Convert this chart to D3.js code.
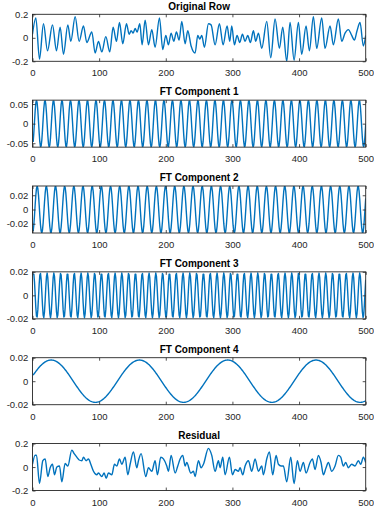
<!DOCTYPE html>
<html>
<head>
<meta charset="utf-8">
<script src="https://cdn.jsdelivr.net/npm/d3@7"></script>
<style>
  body { margin: 0; background: #fff; }
  svg { display: block; }
</style>
</head>
<body>
<div id="chart"></div>
<script>
// panel titles, top to bottom
const titles = ["Original Row", "FT Component 1", "FT Component 2", "FT Component 3", "FT Component 4", "Residual"];
const xTicks = [0, 100, 200, 300, 400, 500];

// y limits and ticks per panel
const yLims = [[-0.2, 0.2], [-0.06, 0.06], [-0.033, 0.033], [-0.02, 0.02], [-0.02, 0.02], [-0.2, 0.2]];
const yTickVals = [[-0.2, 0, 0.2], [-0.05, 0, 0.05], [-0.02, 0, 0.02], [-0.02, 0, 0.02], [-0.02, 0, 0.02], [-0.2, 0, 0.2]];
const yTickText = [["-0.2", "0", "0.2"], ["-0.05", "0", "0.05"], ["-0.02", "0", "0.02"], ["-0.02", "0", "0.02"], ["-0.02", "0", "0.02"], ["-0.2", "0", "0.2"]];

// original row (turning points)
const origX = [0, 5, 10.5, 16.5, 22.5, 30, 36, 41.5, 46.5, 53, 57.5, 64, 70, 76.5, 81.5, 89, 94, 99, 104, 110, 116,
  121, 126, 130.5, 135.5, 141, 145, 148, 151, 154, 157, 161, 164.5, 169, 174, 179, 184, 190.5, 195.5,
  200, 204, 208, 212, 216, 220, 224, 229, 233, 238, 244, 248, 251, 254, 258, 264, 268, 274, 280.5, 286,
  292, 296, 299, 303, 307, 311, 315, 319, 323, 327, 331.5, 335, 339, 344, 351.5, 357.5, 364, 370.5,
  375.5, 381.5, 386.5, 392.5, 399, 404, 410.5, 415.5, 421.5, 426.5, 434, 439, 446.5, 451.5, 459, 464,
  469, 474, 479, 483, 487, 491.5, 496.5, 500];
const origY = [0.03, 0.17, -0.18, 0.12, -0.11, 0.11, -0.11, 0.09, -0.14, 0.11, -0.03, 0.18, -0.03, 0.1, -0.04, 0.05, -0.13, -0.03, -0.12, 0.01, -0.12,
  0.09, -0.03, 0.13, -0.05, 0.12, 0.03, 0.06, 0.04, 0.08, 0.05, 0.12, -0.06, 0.15, -0.06, 0.07, -0.08, 0.17, -0.1,
  0.02, -0.06, 0.04, -0.03, 0.05, -0.02, 0.14, -0.05, 0.06, -0.07, -0.13, 0.02, -0.01, 0.02, -0.08, 0.12, 0.11, -0.06, 0.12, -0.06,
  0.1, -0.03, 0.1, -0.06, 0.02, -0.04, 0.03, -0.03, 0.02, -0.04, 0.06, -0.03, 0.04, -0.09, 0.14, -0.17, 0.16, -0.09,
  0.09, -0.2, 0.13, -0.19, 0.13, -0.14, 0.1, -0.11, 0.18, -0.09, 0.17, -0.09, 0.1, -0.06, 0.16, -0.03,
  0.04, 0.07, 0.02, -0.02, 0.06, 0.13, -0.07, 0.02];

// FT components: amplitude, period (samples) and first peak position
const compAmp = [0.06, 0.033, 0.019, 0.018];
const compPeriod = [12.75, 13.76, 10.2, 132.5];
const compPeak = [6, 7, 1.5, 28];

// residual
const resX = [0, 4, 6, 10.5, 15.5, 19, 23, 26.5, 30, 33, 36.5, 40.5, 44, 49, 53, 59, 62.5, 66.5, 70, 74, 76.5, 80.5, 84, 87.5,
  91.5, 96.5, 99, 104, 107.5, 110.5, 114, 119, 123, 126.5, 130.5, 134, 139, 143, 146.5, 151.5, 156.5, 159, 163, 170,
  174, 179, 184, 187.5, 192.5, 196.5, 201.5, 204, 208, 214, 218, 221.5, 225.5, 229, 231.5, 237.5, 241.5, 244, 249,
  253, 256.5, 264, 269, 274, 279, 281.5, 285.5, 289, 295.5, 300, 304, 309, 311.5, 315.5, 319, 324, 329, 334, 339,
  344, 346.5, 351.5, 355.5, 360.5, 365.5, 369, 373, 376.5, 381.5, 387.5, 392.5, 397.5, 401.5, 406.5, 410.5, 416.5,
  420, 424, 429, 433, 436.5, 440.5, 444, 449, 454, 459, 462.5, 466.5, 470, 474, 479, 484, 489, 492.5, 496.5, 500];
const resY = [0.024, 0.1, 0.1, -0.14, 0.054, 0.069, -0.081, -0.006, 0.024, -0.066, 0, 0.009, -0.126, 0.03, 0.009, 0.144, 0.114, 0.084, 0.06, 0.054, 0.084, 0.054, 0.069, 0.024,
  -0.036, -0.066, -0.051, -0.081, -0.051, -0.096, -0.051, -0.066, 0.024, 0.009, 0.069, 0.024, 0.084, -0.066, 0.024, 0.129, -0.006, 0.054, 0.114, -0.081,
  -0.006, -0.036, 0.054, -0.066, 0.084, 0.069, 0.009, -0.036, 0.099, -0.051, 0.009, 0.069, 0.099, 0.009, 0.039, -0.051, -0.036, -0.081, 0.054,
  -0.006, 0.024, 0.159, 0.099, -0.036, 0.054, -0.006, 0.084, -0.066, 0.084, -0.066, -0.021, -0.036, -0.006, -0.066, 0.009, 0.054, -0.036, 0.069, -0.036,
  0.009, -0.066, 0.069, 0.129, -0.066, 0.099, 0.024, 0.009, 0.009, -0.126, 0.084, -0.141, 0.054, -0.036, 0.039, -0.051, 0.039,
  0.069, -0.021, 0.099, 0.039, -0.066, -0.006, 0.039, -0.036, 0.009, 0.099, 0.084, 0.009, 0.039, -0.006, 0.024, 0.009, 0.054, 0.024, 0.084, 0.039];

const width = 374, height = 525;
const left = 32.5, plotW = 333.2, plotH = 47, top0 = 14.3, step = 85.85;
const blue = "#0072BD", ink = "#262626";

const series = [origX.map((x, i) => [x, origY[i]])];
compAmp.forEach((a, k) => {
  series.push(d3.range(1, 501).map((n) => [n, a * Math.cos((2 * Math.PI * (n - compPeak[k])) / compPeriod[k])]));
});
series.push(resX.map((x, i) => [x, resY[i]]));

const svg = d3.select("#chart").append("svg")
  .attr("width", width).attr("height", height)
  .style("font-family", "'Liberation Sans', Arial, Helvetica, sans-serif");

const x = d3.scaleLinear().domain([0, 500]).range([0, plotW]);

series.forEach((data, i) => {
  const g = svg.append("g").attr("transform", `translate(${left},${top0 + i * step})`);
  const y = d3.scaleLinear().domain(yLims[i]).range([plotH, 0]);

  g.append("clipPath").attr("id", `clip${i}`)
    .append("rect").attr("width", plotW).attr("height", plotH);

  const line = d3.line()
    .x((d) => x(d[0]))
    .y((d) => y(d[1]))
    .curve(i === 0 || i === 5 ? d3.curveMonotoneX : d3.curveLinear);

  g.append("path")
    .datum(data)
    .attr("clip-path", `url(#clip${i})`)
    .attr("fill", "none")
    .attr("stroke", blue)
    .attr("stroke-width", 1.4)
    .attr("stroke-linejoin", "round")
    .attr("d", line);

  // axes, ticks pointing inward like matlab
  const bottom = g.append("g").attr("transform", `translate(0,${plotH})`)
    .call(d3.axisBottom(x).tickValues(xTicks).tickSizeInner(-3).tickSizeOuter(0).tickPadding(8.3));
  const leftAx = g.append("g")
    .call(d3.axisLeft(y).tickValues(yTickVals[i]).tickFormat((d, j) => yTickText[i][j])
      .tickSizeInner(-3).tickSizeOuter(0).tickPadding(4.2));
  g.append("g").call(d3.axisTop(x).tickValues(xTicks).tickFormat("").tickSizeInner(-3).tickSizeOuter(0));
  g.append("g").attr("transform", `translate(${plotW},0)`)
    .call(d3.axisRight(y).tickValues(yTickVals[i]).tickFormat("").tickSizeInner(-3).tickSizeOuter(0));

  g.selectAll(".domain").remove();
  g.selectAll(".tick line").attr("stroke", ink).attr("stroke-width", 0.8);
  [bottom, leftAx].forEach((a) => a.selectAll("text")
    .attr("fill", ink).style("font-size", "9.5px").style("font-family", "'Liberation Sans', Arial, sans-serif"));

  g.append("rect")
    .attr("width", plotW).attr("height", plotH)
    .attr("fill", "none").attr("stroke", ink).attr("stroke-width", 0.9);

  g.append("text")
    .attr("x", plotW / 2).attr("y", -4.8)
    .attr("text-anchor", "middle")
    .attr("fill", "#000")
    .style("font-size", "10px").style("font-weight", "bold")
    .text(titles[i]);
});
</script>
</body>
</html>
